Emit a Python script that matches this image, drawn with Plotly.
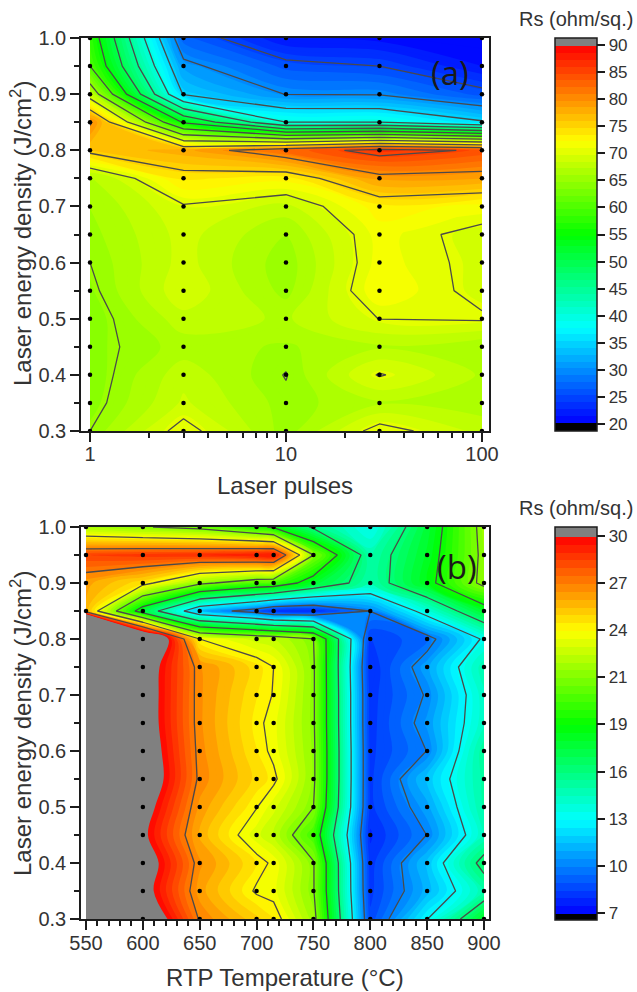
import plotly.graph_objects as go
import math

FONT = "Liberation Sans"
TXT = "#333333"
LINE = "#1c1c1c"
W, H = 637, 992

# --- panel (a) ---
a_pulses = [1, 3, 10, 30, 100]
a_energy = [0.30, 0.35, 0.40, 0.45, 0.50, 0.55, 0.60, 0.65, 0.70, 0.75, 0.80, 0.85, 0.90, 0.95, 1.00]
a_col_1 = [65.0, 64.2, 64.0, 64.3, 64.0, 64.5, 65.0, 65.5, 66.0, 66.5, 76.0, 80.5, 68.0, 60.0, 58.0]
a_col_3 = [71.0, 68.7, 68.0, 66.5, 68.0, 69.5, 69.0, 69.0, 69.7, 73.8, 78.0, 54.5, 34.7, 31.0, 27.0]
a_col_10 = [65.3, 65.4, 64.9, 65.8, 67.0, 65.5, 65.2, 66.0, 68.0, 72.8, 82.5, 40.0, 29.9, 26.0, 21.5]
a_col_30 = [71.0, 67.0, 70.2, 67.0, 70.05, 72.0, 71.5, 71.5, 73.0, 78.9, 86.5, 40.0, 29.7, 25.0, 21.0]
a_col_100 = [68.0, 66.5, 67.0, 66.0, 70.3, 69.25, 69.3, 69.0, 71.7, 78.5, 84.5, 35.5, 26.0, 21.5, 20.5]
a_ticks = [20, 25, 30, 35, 40, 45, 50, 55, 60, 65, 70, 75, 80, 85, 90]

# --- panel (b) ---
b_temp = [550, 600, 650, 700, 715, 750, 800, 850, 900]
b_energy = a_energy
b_r30 = [60, 32.2, 27.0, 25.3, 24.8, 22.0, 8.5, 12.7, 17.7]
b_r35 = [60, 30.8, 26.35, 24.1, 23.9, 21.5, 8.2, 11.0, 14.5]
b_r40 = [60, 31.2, 26.7, 24.66, 24.05, 21.5, 8.1, 11.35, 16.3]
b_r45 = [60, 30.34, 26.0, 23.4, 22.7, 19.9, 7.8, 9.9, 14.1]
b_r50 = [60, 30.9, 26.45, 24.3, 23.4, 21.4, 8.2, 10.6, 14.7]
b_r55 = [60, 31.7, 26.9, 25.0, 24.5, 21.7, 8.2, 11.4, 14.8]
b_r60 = [60, 31.5, 26.8, 24.7, 24.0, 21.7, 8.2, 9.9, 15.0]
b_r65 = [60, 31.2, 26.7, 24.5, 23.9, 21.6, 8.1, 10.4, 14.0]
b_r70 = [60, 31.2, 26.7, 24.7, 24.2, 21.6, 8.1, 10.0, 14.0]
b_r75 = [60, 31.3, 26.7, 24.9, 24.25, 21.6, 7.9, 10.6, 14.5]
b_r80 = [60, 34.6, 24.25, 23.0, 22.8, 21.4, 8.3, 9.3, 13.0]
b_r85 = [26.0, 17.3, 11.0, 9.0, 8.0, 7.9, 9.9, 13.5, 17.5]
b_r90 = [26.3, 24.8, 21.8, 20.2, 20.0, 17.5, 14.5, 17.9, 21.9]
b_r95 = [28.5, 28.8, 29.0, 29.5, 29.7, 21.4, 14.5, 17.6, 21.8]
b_r100 = [22.2, 21.5, 20.8, 19.0, 18.2, 15.3, 13.0, 17.2, 22.0]
b_tick_vals = [7, 9.875, 12.75, 15.625, 18.5, 21.375, 24.25, 27.125, 30]
b_tick_text = ["7", "10", "13", "16", "19", "21", "24", "27", "30"]

a_z = [list(r) for r in zip(a_col_1, a_col_3, a_col_10, a_col_30, a_col_100)]
b_z = [b_r30, b_r35, b_r40, b_r45, b_r50, b_r55, b_r60, b_r65, b_r70, b_r75, b_r80, b_r85, b_r90, b_r95, b_r100]


def rainbow(v, lo, hi):
    stops = [(0, 0, 255), (0, 255, 255), (0, 255, 0), (255, 255, 0), (255, 0, 0)]
    t = (v - lo) / (hi - lo) * 4
    i = min(3, max(0, int(t)))
    f = min(1, max(0, t - i))
    c = [round(stops[i][k] + (stops[i + 1][k] - stops[i][k]) * f) for k in range(3)]
    return f"rgb({c[0]},{c[1]},{c[2]})"


def band_scale(start, size, count, lo, hi, step):
    # one colour per visible step; the contour levels are finer so the end strips get their own width
    n = count + 1
    scale = []
    for k in range(n + 1):
        centre = start - size / 2 + k * size
        if centre < lo:
            col = "rgb(0,0,0)"
        elif centre > hi:
            col = "rgb(128,128,128)"
        else:
            snapped = lo + (math.floor((centre - lo) / step) + 0.5) * step
            col = rainbow(min(snapped, hi), lo, hi)
        scale.append([k / n, col])
    return scale


def panel(fig, x, y, z, xa, ya, fill, lines, cb_top, cb_vals, cb_text, scale):
    fig.add_trace(go.Contour(
        x=x, y=y, z=z, xaxis=xa, yaxis=ya,
        autocontour=False, colorscale=scale,
        contours=dict(start=fill[0], end=fill[1], size=fill[2], coloring="fill", showlines=False),
        line=dict(width=0),
        colorbar=dict(
            x=555 / W, xanchor="left", xpad=0, y=1 - cb_top / H, yanchor="top", ypad=0,
            lenmode="pixels", len=393, thickness=42, outlinecolor=LINE, outlinewidth=1.5,
            tickmode="array", tickvals=cb_vals, ticktext=cb_text, ticks="outside", ticklen=8,
            tickwidth=1.5, tickcolor=LINE, tickfont=dict(family=FONT, size=17, color=TXT),
        ),
    ))
    fig.add_trace(go.Contour(
        x=x, y=y, z=z, xaxis=xa, yaxis=ya, showscale=False,
        autocontour=False,
        contours=dict(start=lines[0], end=lines[1], size=lines[2], coloring="none"),
        line=dict(color="#4a4a4a", width=1.3, smoothing=0),
    ))


fig = go.Figure()
size_a = 72 / 115
scale_a = band_scale(19.0, size_a, 115, 20, 90, 1.25)
panel(fig, a_pulses, a_energy, a_z, "x", "y", (19.0, 91.0001, size_a), (20, 85, 5), 38,
      a_ticks, [str(t) for t in a_ticks], scale_a)
size_b = 23.74 / 99
scale_b = band_scale(6.69, size_b, 99, 7, 30, 23 / 48)
panel(fig, b_temp, b_energy, b_z, "x2", "y2", (6.69, 30.4301, size_b), (7, 27.2, 2.875), 527,
      b_tick_vals, b_tick_text, scale_b)

fig.add_trace(go.Scatter(
    x=[p for p in a_pulses for _ in a_energy], y=[e for _ in a_pulses for e in a_energy],
    mode="markers", marker=dict(color="black", size=4.5), xaxis="x", yaxis="y", showlegend=False,
))
dots_x, dots_y = [], []
for t in b_temp:
    for e in b_energy:
        if t == 550 and e < 0.85:
            continue
        dots_x.append(t)
        dots_y.append(e)
fig.add_trace(go.Scatter(
    x=dots_x, y=dots_y, mode="markers", marker=dict(color="black", size=4.5),
    xaxis="x2", yaxis="y2", showlegend=False,
))

axis_style = dict(
    showgrid=False, zeroline=False, showline=True, mirror=True, linecolor=LINE, linewidth=1.5,
    ticks="outside", ticklen=9, tickwidth=1.5, tickcolor=LINE,
    tickfont=dict(family=FONT, size=20, color=TXT),
)
y_ticks = [0.3, 0.4, 0.5, 0.6, 0.7, 0.8, 0.9, 1.0]
y_minor = [0.35, 0.45, 0.55, 0.65, 0.75, 0.85, 0.95]
y_style = dict(
    axis_style, range=[0.3, 1.0], tickmode="array", tickvals=y_ticks,
    ticktext=[f"{v:.1f}" for v in y_ticks], ticklabelstandoff=0,
    minor=dict(tickmode="array", tickvals=y_minor, ticks="outside", ticklen=5, tickwidth=1.5, tickcolor=LINE),
)
a_minor = [m * d for d in (1, 10) for m in range(2, 10)]
b_minor = [t for t in range(550, 901, 10) if t % 50]
fig.update_layout(
    width=W, height=H, margin=dict(l=0, r=0, t=0, b=0, autoexpand=False),
    paper_bgcolor="white", plot_bgcolor="white", showlegend=False,
    xaxis=dict(axis_style, type="log", domain=[81 / W, 489 / W], range=[-0.046, 2.036], anchor="y",
               tickmode="array", tickvals=[1, 10, 100], ticktext=["1", "10", "100"], ticklabelstandoff=-5,
               minor=dict(tickmode="array", tickvals=a_minor, ticks="outside", ticklen=5, tickwidth=1.5, tickcolor=LINE)),
    yaxis=dict(y_style, domain=[1 - 431 / H, 1 - 38 / H], anchor="x"),
    xaxis2=dict(axis_style, domain=[81 / W, 489 / W], range=[545.6, 904.4], anchor="y2",
                tickmode="array", tickvals=list(range(550, 901, 50)), ticklabelstandoff=-4,
                minor=dict(tickmode="array", tickvals=b_minor, ticks="outside", ticklen=5, tickwidth=1.5, tickcolor=LINE)),
    yaxis2=dict(y_style, domain=[1 - 919 / H, 1 - 527 / H], anchor="x2"),
)


def label(text, px, py, size, angle=0, family=FONT, color=TXT):
    fig.add_annotation(
        text=text, x=px / W, y=1 - py / H, xref="paper", yref="paper", showarrow=False,
        xanchor="center", yanchor="middle", textangle=angle,
        font=dict(family=family, size=size, color=color),
    )


title_energy = "Laser energy density (J/cm<sup>2</sup>)"
label(title_energy, 21, 234, 24, -90)
label(title_energy, 21, 724, 24, -90)
label("Laser pulses", 285, 485, 24)
label("RTP Temperature (°C)", 285, 977, 24)
label("Rs (ohm/sq.)", 576, 19, 20)
label("Rs (ohm/sq.)", 576, 508, 20)
label("(a)", 450, 72, 33, family="Open Sans", color="#1a1a1a")
label("(b)", 457, 566, 33, family="Open Sans", color="#1a1a1a")

fig.write_html("out.html", config=dict(displayModeBar=False),
               post_script="document.body.style.margin='0';document.body.style.overflow='hidden';")
